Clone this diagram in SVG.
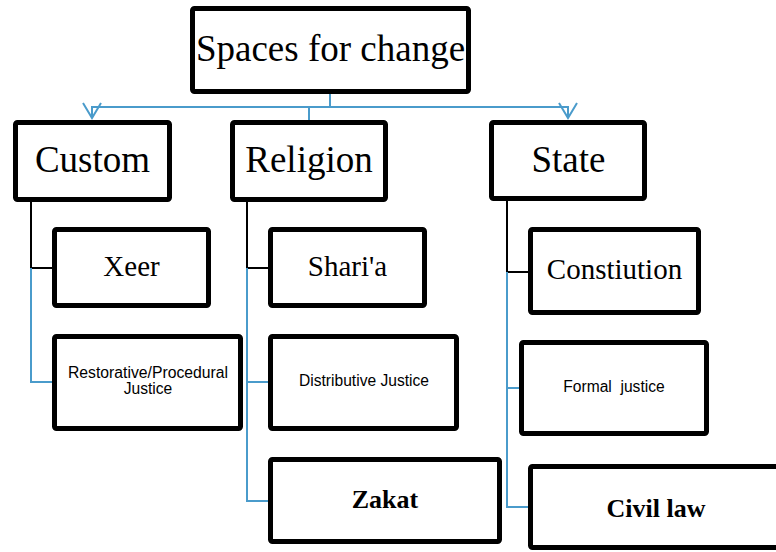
<svg xmlns="http://www.w3.org/2000/svg" width="776" height="552" viewBox="0 0 776 552">
  <style>
    .box { fill: #ffffff; stroke: #000000; stroke-width: 5; }
    .serif { font-family: "Liberation Serif", "Times New Roman", serif; fill: #000000; text-anchor: middle; }
    .sans { font-family: "Liberation Sans", Arial, sans-serif; fill: #000000; text-anchor: middle; font-size: 15.6px; }
    .bold { font-weight: bold; font-size: 26px; }
    .blue { fill: none; stroke: #4a9bcb; stroke-width: 2; }
    .black { fill: none; stroke: #000000; stroke-width: 2; }
  </style>
  <defs>
    <marker id="openArrow" markerUnits="userSpaceOnUse" markerWidth="20" markerHeight="22" viewBox="-17 -11 20 22" refX="0" refY="0" orient="auto">
      <path d="M-15,-9 L0,0 L-15,9" fill="none" stroke="#4a9bcb" stroke-width="2"/>
    </marker>
  </defs>

  <!-- connectors -->
  <g id="connectors">
    <!-- top level fan-out -->
    <path class="blue" d="M330,94 V107 H92 V118" marker-end="url(#openArrow)"/>
    <path class="blue" d="M330,107 H568 V118" marker-end="url(#openArrow)"/>
    <path class="blue" d="M309,107 V120"/>
    <!-- Custom branch -->
    <path class="black" d="M31,202 V268 H52"/>
    <path class="blue" d="M31,268 V382 H52"/>
    <!-- Religion branch -->
    <path class="black" d="M247,202 V268 H268"/>
    <path class="blue" d="M247,268 V501 H268"/>
    <path class="blue" d="M247,382 H268"/>
    <!-- State branch -->
    <path class="black" d="M507,201 V272 H528"/>
    <path class="blue" d="M507,272 V507 H528"/>
    <path class="blue" d="M507,388 H519"/>
  </g>

  <g id="spaces-for-change">
    <rect class="box" x="192.5" y="8.5" width="276" height="83" rx="2"/>
    <text class="serif" x="330.5" y="61" font-size="37">Spaces for change</text>
  </g>

  <g id="custom">
    <rect class="box" x="15.5" y="122.5" width="154" height="77" rx="2"/>
    <text class="serif" x="92.5" y="172" font-size="37">Custom</text>
  </g>
  <g id="religion">
    <rect class="box" x="232.5" y="122.5" width="153" height="77" rx="2"/>
    <text class="serif" x="309" y="172" font-size="37">Religion</text>
  </g>
  <g id="state">
    <rect class="box" x="491.5" y="122.5" width="153" height="76" rx="2"/>
    <text class="serif" x="568.5" y="172" font-size="37">State</text>
  </g>

  <g id="xeer">
    <rect class="box" x="54.5" y="229.5" width="154" height="76" rx="2"/>
    <text class="serif" x="131.5" y="276" font-size="29">Xeer</text>
  </g>
  <g id="restorative-justice">
    <rect class="box" x="54.5" y="336.5" width="186" height="92" rx="2"/>
    <text class="sans" x="148" y="378" font-size="14.5" textLength="160" lengthAdjust="spacingAndGlyphs">Restorative/Procedural</text>
    <text class="sans" x="148" y="394" font-size="14.5">Justice</text>
  </g>

  <g id="sharia">
    <rect class="box" x="270.5" y="229.5" width="154" height="76" rx="2"/>
    <text class="serif" x="347.5" y="276" font-size="29">Shari'a</text>
  </g>
  <g id="distributive-justice">
    <rect class="box" x="270.5" y="336.5" width="186" height="92" rx="2"/>
    <text class="sans" x="364" y="386">Distributive Justice</text>
  </g>
  <g id="zakat">
    <rect class="box" x="270.5" y="459.5" width="229" height="82" rx="2"/>
    <text class="serif bold" x="385" y="508">Zakat</text>
  </g>

  <g id="constitution">
    <rect class="box" x="530.5" y="229.5" width="168" height="83" rx="2"/>
    <text class="serif" x="614.5" y="279" font-size="29">Constiution</text>
  </g>
  <g id="formal-justice">
    <rect class="box" x="521.5" y="342.5" width="185" height="91" rx="2"/>
    <text class="sans" x="614" y="392" xml:space="preserve">Formal  justice</text>
  </g>
  <g id="civil-law">
    <rect class="box" x="530.5" y="466.5" width="251" height="81" rx="2"/>
    <text class="serif bold" x="656" y="517">Civil law</text>
  </g>
</svg>
